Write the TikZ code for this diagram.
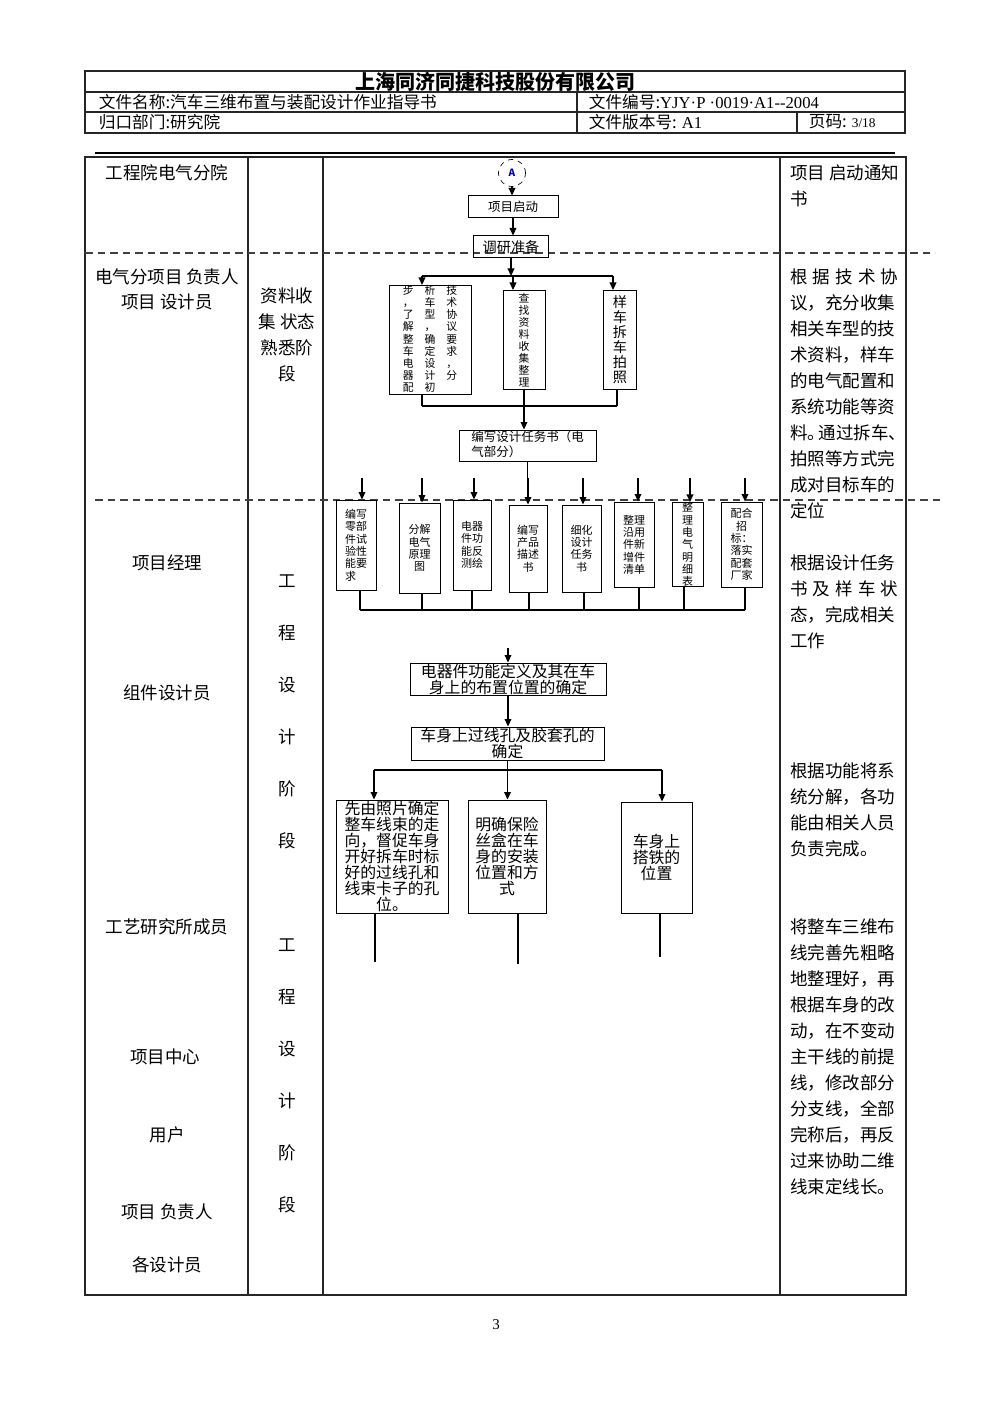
\documentclass[tikz,border=0pt]{standalone}
\usepackage{fontspec}
\setmainfont{Noto Sans CJK SC}
\newfontfamily\tnr{Liberation Serif}
\usetikzlibrary{arrows.meta}

\newcommand\pxu{0.6pt}
\newcommand\fsz[2]{\fontsize{#1}{#2}\selectfont}
\newcommand\spreadln[1]{\makebox[64.8pt][s]{#1}}

\tikzset{
  tbl/.style={draw=black!85, line width=0.8pt},
  dsh/.style={draw=black!75, line width=0.9pt, dash pattern=on 4.5pt off 3pt},
  box/.style={draw, line width=0.6pt, inner sep=0pt, align=center},
  bx/.style 2 args={box, minimum width=#1*\pxu, minimum height=#2*\pxu},
  arr/.style={line width=0.9pt, -{Triangle[length=4.5pt,width=4pt]}},
  ln/.style={line width=0.8pt},
  role/.style={font=\fsz{10.5}{12}},
  note/.style={anchor=north west, align=left, inner sep=0pt, font=\fsz{10.5}{15.6}},
  sb/.style={font=\fsz{6.6}{7.4}},
  big/.style={font=\fsz{9.5}{9.6}},
}

\begin{document}
\begin{tikzpicture}[x=0.6pt,y=-0.6pt]
\useasboundingbox (0,0) rectangle (992,1403);

% header
\draw[tbl] (85,71) rectangle (905,133);
\draw[tbl] (85,92) -- (905,92);
\draw[tbl] (85,112) -- (905,112);
\draw[tbl] (577,92) -- (577,133);
\draw[tbl] (797,112) -- (797,133);
\node[font=\fsz{12}{12}\bfseries] (title) at (495,82) {上海同济同捷科技股份有限公司};
\node[anchor=west, font=\fsz{10}{10}] (fname) at (93,102) {文件名称:汽车三维布置与装配设计作业指导书};
\node[anchor=west, font=\fsz{10}{10}] (fno) at (583,102) {文件编号:{\tnr YJY·P ·0019·A1-{}-2004}};
\node[anchor=west, font=\fsz{10}{10}] (dept) at (93,122) {归口部门:研究院};
\node[anchor=west, font=\fsz{10}{10}] (ver) at (583,122) {文件版本号: {\tnr A1}};
\node[anchor=west, font=\fsz{10}{10}] (pg) at (803,122) {页码: {\tnr\fsz{8}{8}3/18}};

\draw[line width=1.3pt] (95,153) -- (895,153);

% table
\draw[tbl] (85,157) rectangle (906,1295);
\foreach \cx in {248,323,780}
  \draw[tbl] (\cx,157) -- (\cx,1295);
\draw[dsh] (85,253) -- (935,253);
\draw[dsh] (95,500) -- (940,500);

% who
\node[role] (r1) at (167,173) {工程院电气分院};
\node[role] (r2) at (167,277) {电气分项目 负责人};
\node[role] (r3) at (167,302) {项目 设计员};
\node[role] (r4) at (167,563) {项目经理};
\node[role] (r5) at (167,693) {组件设计员};
\node[role] (r6) at (167,927) {工艺研究所成员};
\node[role] (r7) at (165,1057) {项目中心};
\node[role] (r8) at (167,1135) {用户};
\node[role] (r9) at (167,1212) {项目 负责人};
\node[role] (r10) at (167,1265) {各设计员};

% phase
\node[align=center, font=\fsz{10.5}{15.6}] (ph1) at (287,335) {资料收\\集 状态\\熟悉阶\\段};
\node[align=center, font=\fsz{10.5}{31.2}] (ph2) at (287,712) {工\\程\\设\\计\\阶\\段};
\node[align=center, font=\fsz{10.5}{31.2}] (ph3) at (287,1076) {工\\程\\设\\计\\阶\\段};

% notes
\node[note] (n1) at (790,164) {项目 启动通知\\书};
\node[note] (n2) at (790,268) {\spreadln{根\hfil 据\hfil 技\hfil 术\hfil 协}\\议，充分收集\\相关车型的技\\术资料，样车\\的电气配置和\\系统功能等资\\料。\kern-4pt 通过拆车、\\拍照等方式完\\成对目标车的\\定位};
\node[note] (n3) at (790,554) {根据设计任务\\\spreadln{书\hfil 及\hfil 样\hfil 车\hfil 状}\\态，完成相关\\工作};
\node[note] (n4) at (790,762) {根据功能将系\\统分解，各功\\能由相关人员\\负责完成。};
\node[note] (n5) at (790,918) {将整车三维布\\线完善先粗略\\地整理好，再\\根据车身的改\\动，在不变动\\主干线的前提\\线，修改部分\\分支线，全部\\完称后，再反\\过来协助二维\\线束定线长。};

% flow: start
\node[circle, draw, dashed, line width=0.4pt, minimum size=27*\pxu, inner sep=0pt,
      font=\fsz{6}{6}\bfseries, text=blue!70!black] (ca) at (512,173) {A};
\node[bx={90}{22}, font=\fsz{7.5}{8}] (qd) at (513,207) {项目启动};
\node[bx={75}{22}, font=\fsz{8.5}{9}] (dy) at (511,247) {调研准备};
\draw[arr] (ca.south) -- (ca.south |- qd.north);
\draw[arr] (qd.south) -- (qd.south |- dy.north);

% flow: collect
\node[bx={82}{99}, font=\fsz{6.5}{6}] (tj) at (430,340) {%
  \begin{tabular}{@{}c@{\hspace{6.5pt}}c@{\hspace{6.5pt}}c@{}}
  步&析&技\\ ，&车&术\\ 了&型&协\\ 解&，&议\\ 整&确&要\\
  车&定&求\\ 电&设&，\\ 器&计&分\\ 配&初&
  \end{tabular}};
\node[bx={42}{99}, font=\fsz{6.5}{7.2}] (zl) at (524,340) {查\\找\\资\\料\\收\\集\\整\\理};
\node[bx={33}{99}, font=\fsz{8.5}{9}] (cp) at (620,340) {样\\车\\拆\\车\\拍\\照};

\coordinate (f0) at (511,276);
\coordinate (fl) at (422,276);
\coordinate (fm) at (513,276);
\coordinate (fr) at (613,276);
\draw[arr] (dy.south) -- (f0);
\draw[ln] (fl) -- (fr);
\draw[arr] (fl) -- (fl |- tj.north);
\draw[arr] (fm) -- (fm |- zl.north);
\draw[arr] (fr) -- (fr |- cp.north);

\node[bx={137}{31}, font=\fsz{7.5}{9}] (rw) at (527.5,445.5) {%
  \begin{tabular}{@{}l@{}}编写设计任务书（电\\气部分）\end{tabular}};
\coordinate (gl) at (422,406);
\coordinate (gr) at (617,406);
\draw[ln] (tj.south -| gl) -- (gl);
\draw[ln] (cp.south -| gr) -- (gr);
\draw[ln] (gl) -- (gr);
\draw[ln] (zl.south) -- (zl.south |- gl);
\draw[arr] (zl.south |- gl) -- (zl.south |- rw.north);

% flow: tasks
\node[bx={40}{90}, sb, align=left] (e1) at (356,545) {编写\\零部\\件试\\验性\\能要\\求};
\node[bx={41}{90}, sb] (e2) at (419.5,548) {分解\\电气\\原理\\图};
\node[bx={38}{90}, sb] (e3) at (472,545) {电器\\件功\\能反\\测绘};
\node[bx={38}{87}, sb] (e4) at (528,548.5) {编写\\产品\\描述\\书};
\node[bx={39}{87}, sb] (e5) at (581.5,548.5) {细化\\设计\\任务\\书};
\node[bx={40}{85}, sb] (e6) at (634,544.5) {整理\\沿用\\件新\\增件\\清单};
\node[bx={31}{79}, sb] (e7) at (687.5,544.5) {整\\理\\电\\气\\明\\细\\表};
\node[bx={41}{85}, sb] (e8) at (741.5,544.5) {配合\\招\\标：\\落实\\配套\\厂家};

\coordinate (h0) at (527.5,480);
\draw[ln] (rw.south) -- (h0);
\foreach \n/\ax/\bx in {e1/362/360, e2/422/422, e3/474/472, e4/528/529,
                        e5/583/584, e6/638/639, e7/690/684, e8/745/745} {
  \coordinate (t\n) at (\ax,478);
  \coordinate (b\n) at (\bx,610);
  \draw[arr] (t\n) -- (t\n |- \n.north);
  \draw[ln] (\n.south -| b\n) -- (b\n);
}
\draw[ln] (be1) -- (be8);

% flow: layout
\node[bx={196}{32}, big] (f1) at (508,679) {电器件功能定义及其在车\\身上的布置位置的确定};
\node[bx={193}{33}, big] (f2) at (507.5,743.5) {车身上过线孔及胶套孔的\\确定};
\coordinate (k0) at (508,648);
\draw[arr] (k0) -- (k0 |- f1.north);
\draw[arr] (f1.south) -- (f1.south |- f2.north);

\node[bx={112}{113}, big] (g1) at (392,856.5) {先由照片确定\\整车线束的走\\向，督促车身\\开好拆车时标\\好的过线孔和\\线束卡子的孔\\位。};
\node[bx={78}{113}, big] (g2) at (507,856.5) {明确保险\\丝盒在车\\身的安装\\位置和方\\式};
\node[bx={71}{111}, big] (g3) at (656.5,857.5) {车身上\\搭铁的\\位置};

\coordinate (ml) at (374,770);
\coordinate (mr) at (662,770);
\draw[ln] (f2.south) -- (f2.south |- ml);
\draw[ln] (ml) -- (mr);
\draw[arr] (ml) -- (ml |- g1.north);
\draw[arr] (f2.south |- ml) -- (f2.south |- g2.north);
\draw[arr] (mr) -- (mr |- g3.north);

\coordinate (d1) at (375,962);
\coordinate (d2) at (518,964);
\coordinate (d3) at (660,957);
\draw[ln] (g1.south -| d1) -- (d1);
\draw[ln] (g2.south -| d2) -- (d2);
\draw[ln] (g3.south -| d3) -- (d3);

\node[font=\tnr\fsz{9}{9}] (pno) at (496,1325) {3};
\end{tikzpicture}
\end{document}
